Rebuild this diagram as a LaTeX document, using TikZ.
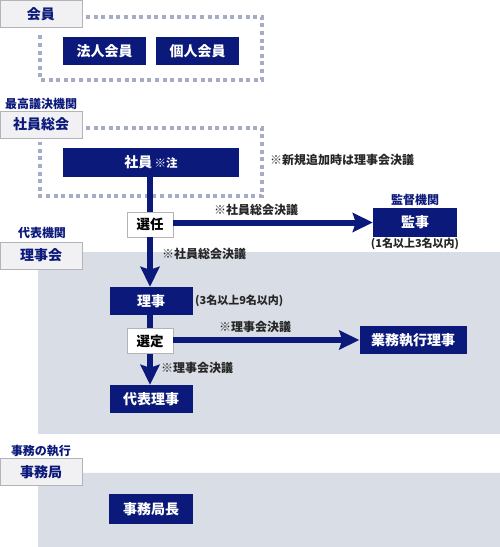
\documentclass[tikz,border=0pt]{standalone}
\usepackage{fontspec}
\setmainfont{Noto Sans CJK JP}
\usetikzlibrary{arrows.meta}
\definecolor{navy}{HTML}{0B1A7A}
\definecolor{bandgray}{HTML}{D9DDE6}
\definecolor{dotc}{HTML}{A7ACC6}
\definecolor{lblfill}{HTML}{F1F1F3}
\definecolor{lbldraw}{HTML}{B4B4B8}
\tikzset{
  nbox/.style={fill=navy, text=white, inner sep=0pt, font=\bfseries\fontsize{14}{14}\selectfont},
  lbl/.style={fill=lblfill, draw=lbldraw, line width=1pt, text=navy, inner sep=0pt, minimum width=82pt, minimum height=27pt, font=\bfseries\fontsize{14}{14}\selectfont},
  wbox/.style={fill=white, draw=lbldraw, line width=0.8pt, inner sep=0pt, minimum width=46pt, minimum height=25pt, font=\bfseries\fontsize{13.5}{13.5}\selectfont},
  captext/.style={text=navy, inner sep=0pt, font=\bfseries\fontsize{12}{12}\selectfont},
  notetext/.style={text=black!85, inner sep=0pt, font=\bfseries\fontsize{12}{12}\selectfont},
  numtext/.style={text=black!85, inner sep=0pt, font=\bfseries\fontsize{11}{11}\selectfont},
  dotline/.style={draw=dotc, line width=4pt, dash pattern=on 4pt off 3.6pt},
  conn/.style={draw=navy, line width=6pt},
  arr/.style={draw=navy, line width=6pt, -{Stealth[length=20pt,width=19pt,inset=3pt]}}
}
\begin{document}
\begin{tikzpicture}[x=1pt,y=-1pt]
\useasboundingbox (0,0) rectangle (500,547);
% background bands
\fill[bandgray] (38,252) rectangle (500,434);
\fill[bandgray] (38,472) rectangle (500,547);
\draw[white!85!bandgray, line width=0.6pt] (38,472) -- (500,472);
% dotted frames
\draw[dotline] (86,17) -- (262,17) -- (262,80) -- (40,80) -- (40,32);
\draw[dotline] (86,128) -- (262,128) -- (262,196) -- (40,196) -- (40,142);
% label boxes
\node[lbl] (kaiin) at (41,14) {会員};
\node[captext, anchor=west] (saikou) at (5,104) {最高議決機関};
\node[lbl] (sogo) at (41,124.5) {社員総会};
\node[captext] (daihyokikan) at (42,233) {代表機関};
\node[lbl] (rijikai) at (41,255.5) {理事会};
\node[captext] (jimushikko) at (41,451) {事務の執行};
\node[lbl] (jimukyoku) at (41,472) {事務局};
% navy boxes
\node[nbox, minimum width=83pt, minimum height=28pt] (hojin) at (104.5,51) {法人会員};
\node[nbox, minimum width=83pt, minimum height=28pt] (kojin) at (197.5,51) {個人会員};
\node[nbox, minimum width=176pt, minimum height=29pt] (shain) at (151,162.5) {社員\,{\fontsize{11.5}{11.5}\selectfont ※注}};
\node[notetext, anchor=west] (shinki) at (270,160) {※新規追加時は理事会決議};
\node[wbox] (senin) at (150,224.5) {選任};
\node[captext] (kantoku) at (415,200) {監督機関};
\node[nbox, minimum width=84pt, minimum height=29pt] (kanji) at (415,222.5) {監事};
\node[numtext] (kanjin) at (415,244) {(1名以上3名以内)};
\node[nbox, minimum width=83pt, minimum height=28pt] (riji) at (151,301) {理事};
\node[numtext, anchor=west] (rijin) at (195,301) {(3名以上9名以内)};
\node[wbox] (sentei) at (150,341) {選定};
\node[nbox, minimum width=107pt, minimum height=28pt] (gyomu) at (413,340) {業務執行理事};
\node[nbox, minimum width=83pt, minimum height=28pt] (daihyo) at (151,399) {代表理事};
\node[nbox, minimum width=84pt, minimum height=30pt] (kyokucho) at (151,509) {事務局長};
% connectors
\draw[conn] (shain.south -| senin.north) -- (senin.north);
\draw[arr] (senin.east |- kanji.west) -- (kanji.west);
\node[notetext, anchor=west] (n1) at (214,210) {※社員総会決議};
\draw[arr] (senin.south) -- (senin.south |- riji.north);
\node[notetext, anchor=west] (n2) at (162,254) {※社員総会決議};
\draw[conn] (riji.south -| sentei.north) -- (sentei.north);
\draw[arr] (sentei.east |- gyomu.west) -- (gyomu.west);
\node[notetext, anchor=west] (n3) at (219,327) {※理事会決議};
\draw[arr] (sentei.south) -- (sentei.south |- daihyo.north);
\node[notetext, anchor=west] (n4) at (161,368) {※理事会決議};
\end{tikzpicture}
\end{document}
